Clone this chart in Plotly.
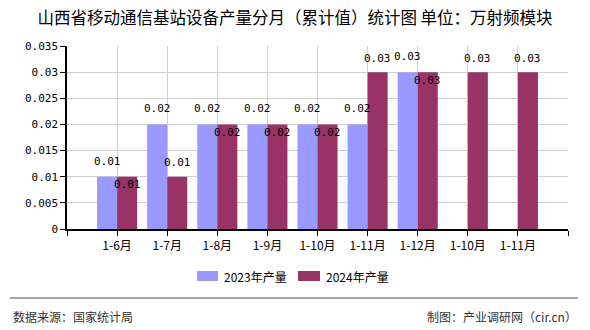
import plotly.graph_objects as go

categories = ["1-6月", "1-7月", "1-8月", "1-9月", "1-10月", "1-11月", "1-12月", "1-10月", "1-11月"]
series_2023 = [0.01, 0.02, 0.02, 0.02, 0.02, 0.02, 0.03, None, None]
series_2024 = [0.01, 0.01, 0.02, 0.02, 0.02, 0.03, 0.03, 0.03, 0.03]
y_ticks = [0, 0.005, 0.01, 0.015, 0.02, 0.025, 0.03, 0.035]
y_tick_labels = ["0", "0.005", "0.01", "0.015", "0.02", "0.025", "0.03", "0.035"]
series_names = ["2023年产量", "2024年产量"]

C23 = "#9999FF"
C24 = "#993366"
CJK = "Noto Sans CJK SC"
NUM = "DejaVu Sans Mono"

# plot-area geometry in pixels (used to place paper-referenced extras)
L, R, T, B = 67, 568, 46, 229
PW, PH = R - L, B - T


def px(x):
    return (x - L) / PW


def py(y):
    return (B - y) / PH


xs = list(range(len(categories)))

fig = go.Figure()
fig.add_trace(go.Bar(x=xs, y=series_2023, name=series_names[0], marker_color=C23,
                     marker_line_width=0, showlegend=False))
fig.add_trace(go.Bar(x=xs, y=series_2024, name=series_names[1], marker_color=C24,
                     marker_line_width=0, showlegend=False))

# value labels
ann = []
for i, (a, b) in enumerate(zip(series_2023, series_2024)):
    if a is not None:
        ann.append(dict(x=i - 0.2, y=a, text=f"{a:g}", showarrow=False,
                        yanchor="bottom", yshift=7, xref="x", yref="y",
                        font=dict(family=NUM, size=11, color="#000")))
    if b is not None:
        below = a is not None and a == b
        ann.append(dict(x=i + 0.2, y=b, text=f"{b:g}", showarrow=False,
                        yanchor="middle", yshift=-8 if below else 14,
                        xref="x", yref="y",
                        font=dict(family=NUM, size=11, color="#000")))

shapes = []
# legend: wide swatches with labels
for (x0, x1, tx), name, col in zip([(197, 218, 222), (298, 320, 324)], series_names, [C23, C24]):
    shapes.append(dict(type="rect", xref="paper", yref="paper",
                       x0=px(x0), x1=px(x1), y0=py(281), y1=py(271),
                       fillcolor=col, line=dict(width=0)))
    ann.append(dict(xref="paper", yref="paper", x=px(tx), y=py(276),
                    xanchor="left", yanchor="middle", showarrow=False, text=name,
                    font=dict(family=CJK, size=12, color="#000")))

# separator line above the footer
shapes.append(dict(type="line", xref="paper", yref="paper",
                   x0=px(10), x1=px(578), y0=py(298), y1=py(298),
                   line=dict(color="#888", width=1.5)))

# footer texts
ann.append(dict(xref="paper", yref="paper", x=px(11), y=py(316),
                xanchor="left", yanchor="middle", showarrow=False,
                text="数据来源：国家统计局",
                font=dict(family=CJK, size=12, color="#333")))
ann.append(dict(xref="paper", yref="paper", x=px(579), y=py(316),
                xanchor="right", yanchor="middle", showarrow=False,
                text="制图：产业调研网（cir.cn）",
                font=dict(family=CJK, size=12, color="#333")))

fig.update_layout(
    width=590, height=330,
    margin=dict(l=L, r=590 - R, t=T, b=330 - B),
    paper_bgcolor="white", plot_bgcolor="white",
    barmode="group", bargap=0.2, bargroupgap=0,
    title=dict(text="山西省移动通信基站设备产量分月（累计值）统计图 单位：万射频模块",
               x=0.5, xanchor="center", y=1 - 18 / 330, yanchor="middle",
               font=dict(family=CJK, size=16.5, color="#000")),
    annotations=ann,
    shapes=shapes,
    font=dict(family=CJK),
)

fig.update_xaxes(range=[-1, 9], tickmode="array",
                 tickvals=[-1] + xs + [9], ticktext=[""] + categories + [""],
                 showgrid=True, gridcolor="#d0d0d0", gridwidth=1,
                 showline=True, linecolor="#000", linewidth=1.5,
                 ticks="outside", ticklen=5, tickcolor="#000",
                 tickfont=dict(family=CJK, size=12, color="#000"),
                 zeroline=False, fixedrange=True)
fig.update_yaxes(range=[0, 0.035], tickmode="array",
                 tickvals=y_ticks, ticktext=y_tick_labels,
                 showgrid=True, gridcolor="#d0d0d0", gridwidth=1,
                 showline=True, linecolor="#000", linewidth=1.5,
                 ticks="outside", ticklen=5, tickcolor="#000",
                 tickfont=dict(family=NUM, size=11, color="#000"),
                 zeroline=False, fixedrange=True)

fig.write_html("out.html", config={"displayModeBar": False})
